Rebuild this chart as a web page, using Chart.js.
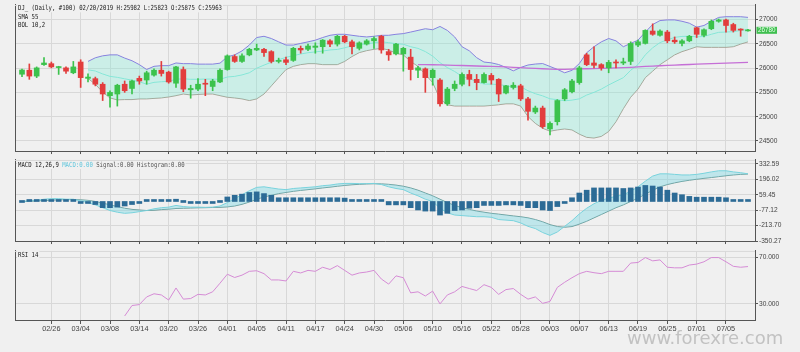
<!DOCTYPE html>
<html><head><meta charset="utf-8">
<script src="https://cdn.jsdelivr.net/npm/chart.js@4.4.1/dist/chart.umd.min.js"></script>
<style>
html,body{margin:0;padding:0;background:#f0f0f0;}
#wrap{position:relative;width:800px;height:352px;background:#f0f0f0;overflow:hidden;}
canvas{position:absolute;left:0;}
</style></head><body>
<div id="wrap">
<canvas id="cp" width="800" height="156" style="top:0px"></canvas>
<canvas id="cm" width="800" height="91" style="top:155px"></canvas>
<canvas id="cr" width="800" height="106" style="top:246px"></canvas>
</div>
<script>
// ---------- DATA ----------
const dates = ["02/20","02/21","02/22","02/25","02/26","02/27","02/28","03/01","03/04","03/05",
"03/06","03/07","03/08","03/11","03/12","03/13","03/14","03/15","03/18","03/19",
"03/20","03/21","03/22","03/25","03/26","03/27","03/28","03/29","04/01","04/02",
"04/03","04/04","04/05","04/08","04/09","04/10","04/11","04/12","04/15","04/16",
"04/17","04/18","04/22","04/23","04/24","04/25","04/26","04/29","04/30","05/01",
"05/02","05/03","05/06","05/07","05/08","05/09","05/10","05/13","05/14","05/15",
"05/16","05/17","05/20","05/21","05/22","05/23","05/24","05/27","05/28","05/29",
"05/30","05/31","06/03","06/04","06/05","06/06","06/07","06/10","06/11","06/12",
"06/13","06/14","06/17","06/18","06/19","06/20","06/21","06/24","06/25","06/26",
"06/27","06/28","07/01","07/02","07/03","07/04","07/05","07/08","07/09","07/10"];
const xTicks = [4,8,12,16,20,24,28,32,36,40,44,48,52,56,60,64,68,72,76,80,84,88,92,96];

const open = [25875,25958,25837,26073,26093,26012,26006,25905,26127,25790,
25784,25669,25434,25468,25669,25582,25790,25756,25857,25958,
25918,25690,25972,25555,25569,25690,25623,25716,25972,26240,
26139,26274,26375,26389,26341,26139,26173,26160,26409,26389,
26429,26442,26563,26496,26657,26543,26409,26496,26563,26657,
26341,26294,26294,26227,25958,25986,25805,25756,25266,25582,
25669,25871,25770,25703,25851,25770,25488,25603,25636,25367,
25098,25179,24748,24897,25367,25514,25703,26274,26107,26073,
26006,26119,26107,26139,26476,26510,26765,26677,26744,26577,
26510,26563,26832,26677,26812,26966,26993,26899,26792,26768];
const high = [25982,26087,26026,26220,26127,26039,26026,26139,26173,25885,
25817,25703,25535,25669,25736,25756,25837,25938,25986,26139,
25938,26039,26026,25649,25784,25770,25770,25986,26274,26274,
26294,26409,26496,26409,26361,26207,26227,26429,26456,26496,
26522,26590,26590,26677,26677,26577,26543,26590,26643,26677,
26389,26510,26429,26389,26039,26006,25986,25784,25603,25736,
25905,25958,25871,25905,25891,25784,25649,25703,25669,25401,
25219,25219,24897,25353,25582,25770,26039,26308,26442,26093,
26160,26173,26207,26543,26577,26792,26913,26792,26778,26643,
26590,26677,26846,26812,26993,27013,27013,26926,26812,26800];
const low = [25823,25770,25805,26059,26006,25871,25891,25885,25603,25716,
25635,25333,25199,25219,25502,25468,25669,25669,25837,25837,
25690,25603,25515,25381,25535,25434,25535,25703,25958,26119,
26119,26254,26361,26240,26107,26107,26073,26139,26308,26361,
26308,26308,26442,26456,26522,26294,26375,26476,26409,26308,
26160,26274,25938,25756,25805,25502,25649,25219,25232,25535,
25635,25635,25555,25690,25669,25313,25468,25569,25333,24930,
25065,24762,24627,24829,25333,25488,25669,26052,26006,25958,
25905,26006,26073,26073,26442,26496,26677,26657,26522,26510,
26456,26543,26631,26643,26792,26946,26744,26744,26657,26760];
const close = [25963,25837,26006,26107,26026,26020,25938,26026,25805,25817,
25669,25468,25501,25649,25535,25736,25736,25905,25958,25891,
25716,26026,25569,25582,25669,25669,25736,25958,26254,26139,
26254,26389,26409,26321,26139,26160,26119,26409,26375,26456,
26456,26577,26496,26657,26543,26442,26522,26563,26610,26375,
26274,26496,26409,25972,26006,25805,25958,25266,25569,25669,
25871,25770,25703,25871,25756,25468,25636,25649,25367,25111,
25179,24796,24863,25333,25555,25736,26006,26073,26059,26006,
26119,26107,26130,26510,26543,26778,26698,26765,26563,26543,
26563,26657,26698,26792,26966,26993,26879,26778,26785,26780];

const bolUpper = [null,null,null,null,null,null,null,null,null,
26139,26214,26254,26274,26274,26208,26153,26073,25972,26038,
26052,26052,26107,26093,26093,26083,26083,26083,26103,26234,
26274,26355,26476,26631,26657,26611,26542,26476,26476,26510,
26542,26577,26631,26677,26698,26698,26677,26657,26643,26657,
26677,26677,26698,26712,26744,26778,26812,26792,26859,26778,
26643,26442,26357,26216,26126,26110,26075,26015,25945,26015,
26065,26085,26095,26035,25975,25905,25955,26095,26317,26442,
26542,26611,26563,26442,26510,26577,26744,26899,26980,26994,
26994,26966,26926,26845,26879,26966,27046,27060,27060,27060,27046];
const bolMid = [null,null,null,null,null,null,null,null,null,
25965,25942,25881,25831,25811,25781,25753,25720,25670,25708,
25720,25730,25771,25781,25771,25771,25776,25776,25769,25818,
25831,25861,25905,25999,26063,26123,26174,26224,26257,26292,
26318,26335,26352,26375,26386,26419,26459,26489,26502,26523,
26543,26526,26503,26493,26442,26408,26342,26248,26113,26012,
25932,25831,25789,25718,25673,25671,25661,25641,25606,25618,
25535,25474,25429,25369,25352,25327,25342,25368,25446,25502,
25569,25654,25730,25804,25956,26073,26275,26419,26527,26584,
26634,26654,26658,26644,26654,26698,26738,26745,26751,26778,26794];
const bolLower = [null,null,null,null,null,null,null,null,null,
25790,25669,25508,25387,25347,25353,25353,25367,25367,25377,
25387,25407,25434,25468,25448,25458,25468,25468,25434,25401,
25387,25367,25333,25367,25468,25635,25805,25972,26038,26073,
26093,26093,26073,26073,26073,26139,26240,26321,26361,26389,
26409,26375,26308,26274,26139,26038,25871,25704,25367,25246,
25220,25220,25220,25220,25220,25232,25246,25266,25266,25220,
25004,24863,24762,24702,24728,24748,24728,24641,24575,24561,
24595,24696,24897,25165,25401,25569,25805,25938,26073,26173,
26274,26341,26389,26442,26429,26429,26429,26429,26442,26496,26542];
const sma55 = [null,null,null,null,null,null,null,null,null,null,
null,null,null,null,null,null,null,null,null,null,
null,null,null,null,null,null,null,null,null,null,
null,null,null,null,null,null,null,null,null,null,
null,null,null,null,null,null,null,null,null,null,
null,null,null,null,
26075,26072,26070,26066,26062,26058,26055,26050,26045,26040,
26035,26030,26025,26018,26010,26002,25995,25988,25980,25975,
25976,25980,25984,25988,25992,25996,26000,26006,26012,26018,
26025,26035,26042,26050,26057,26064,26070,26076,26082,26088,
26094,26100,26105,26110,26115,26120];
const priceTicks = [24500,25000,25500,26000,26500,27000];

const macdLine = [0,5,10,20,25,25,20,20,5,-10,
-30,-55,-80,-95,-105,-100,-90,-80,-65,-55,
-50,-35,-45,-50,-50,-52,-50,-40,-10,25,
60,95,125,130,120,110,105,115,120,125,
130,140,145,155,160,160,158,158,160,150,
130,115,105,75,50,20,0,-60,-100,-120,
-125,-130,-135,-135,-140,-160,-165,-170,-190,-220,
-240,-275,-300,-270,-220,-170,-110,-60,-20,10,
30,45,60,90,130,180,225,245,245,240,
235,235,240,250,262,272,272,262,255,245];
const signalLine = [0,2,5,8,12,15,16,17,15,10,
0,-15,-30,-45,-60,-70,-75,-80,-78,-72,
-68,-62,-60,-58,-56,-55,-53,-52,-48,-40,
-25,-5,20,40,55,70,80,90,98,105,
112,120,127,135,142,148,152,155,157,156,
152,145,135,120,100,75,50,20,-10,-35,
-55,-70,-85,-95,-105,-112,-120,-128,-135,-145,
-160,-180,-205,-222,-228,-222,-200,-175,-145,-115,
-85,-55,-30,0,30,65,100,130,150,165,
178,188,197,205,212,220,228,235,240,243];
const histogram = [0,3,5,10,12,10,5,3,-5,-10,
-27,-55,-55,-50,-40,-27,-10,15,15,15,
5,20,0,-3,-3,-3,-3,0,40,55,
65,80,85,70,55,33,33,33,33,33,
33,33,33,33,30,3,3,3,3,3,
-30,-30,-30,-55,-75,-85,-85,-120,-105,-80,
-75,-60,-55,-35,-35,-35,-30,-30,-35,-55,
-55,-75,-80,-45,-5,33,75,100,120,120,
120,120,115,120,128,142,137,128,100,75,
60,45,38,38,38,38,33,8,8,8];
const macdTicks = [-350.27,-213.70,-77.12,59.45,196.02,332.59];

const rsi = [null,null,null,null,null,null,null,null,null,null,null,null,null,null,
19.6,28.6,29.4,36,38.7,37.7,33.3,43.7,34.1,34.6,
38.2,37.7,40.4,47.8,55.5,52.7,54.7,58,58.5,56,
50.6,50.6,49.7,58,56.6,58.8,58,61.5,59.6,62.9,
58.8,54.7,56.6,57.4,58.8,51.4,47,54.1,52.5,39.5,
40.4,36.8,41,30,37.7,40.4,45,43.2,41.5,46.5,
44.2,38.2,42.3,43.2,38.2,34.1,36,30.5,32.1,44.2,
48.6,52.5,56,58,56.8,56,58,58,58,65.1,
65.6,69.8,67,67.8,61.5,61,61,63.4,64.2,66.2,
69.8,69.8,66.2,62.3,61.5,62.1];
const rsiTicks = [30,70];

// ---------- STYLE ----------
const BG = '#f0f0f0', GRID = '#d8d8d8', AXIS = '#555555', TXT = '#444444';
const UP = '#3cc24c', DOWN = '#e23d3d';
const SANS = '"Liberation Sans", Arial, sans-serif';
const MONO = '"DejaVu Sans Mono", "Liberation Mono", monospace';
const BAND_FILL = 'rgba(118,236,212,0.30)';
const MACD_FILL = 'rgba(125,216,228,0.42)';
Chart.defaults.font.family = SANS;

const pts = arr => arr.map((v, i) => ({x: i, y: v})).filter(p => p.y !== null);
const candleColor = c => close[c.dataIndex] >= open[c.dataIndex] ? UP : DOWN;

function xScale(showLabels, h) {
  return {
    type: 'linear', min: -0.955, max: 99.955, offset: false,
    afterBuildTicks: s => { s.ticks = xTicks.map(v => ({value: v})); },
    afterFit: s => { s.height = h; },
    grid: {color: GRID, tickColor: AXIS, tickLength: 3, offset: false},
    border: {color: AXIS, width: 1},
    ticks: {display: showLabels, autoSkip: false, maxRotation: 0, minRotation: 0, padding: 1,
      color: TXT, font: {family: SANS, size: 7.3}, callback: v => dates[v]}
  };
}
function yScale(min, max, tickArr, fmt) {
  return {
    position: 'right', min: min, max: max, beginAtZero: false,
    afterBuildTicks: s => { s.ticks = tickArr.map(v => ({value: v})); },
    afterFit: s => { s.width = 45; },
    grid: {color: GRID, tickColor: AXIS, tickLength: 3},
    border: {color: AXIS, width: 1},
    ticks: {autoSkip: false, padding: 1, color: TXT, font: {family: SANS, size: 6.6}, callback: fmt}
  };
}
const leftScale = {
  position: 'left', afterFit: s => { s.width = 15; },
  ticks: {display: false}, grid: {display: true, drawOnChartArea: false, drawTicks: false},
  border: {color: AXIS, width: 1}
};

let monoScale = null;
const headerLine = () => 'DJ_ (Daily, #100) ' + dates[0] + '/2019 H:' + high[0] + ' L:' + low[0] + ' O:' + open[0] + ' C:' + close[0];
function label(ctx, x, y, segs) {
  ctx.save();
  ctx.font = '7px ' + MONO;
  if (monoScale === null) monoScale = 204 / ctx.measureText(headerLine()).width;
  const w = segs.map(s => ctx.measureText(s[0]).width);
  const tot = w.reduce((a, b) => a + b, 0);
  ctx.fillStyle = BG;
  ctx.fillRect(x - 1, y - 4, tot * monoScale + 2, 8);
  ctx.translate(x, y); ctx.scale(monoScale, 1);
  ctx.textBaseline = 'middle'; ctx.textAlign = 'left';
  let cx = 0;
  segs.forEach((s, k) => { ctx.fillStyle = s[1]; ctx.fillText(s[0], cx, 0); cx += w[k]; });
  ctx.restore();
}
const topLine = {
  id: 'topLine',
  beforeDatasetsDraw(chart) {
    const a = chart.chartArea, c = chart.ctx;
    c.save(); c.strokeStyle = GRID; c.lineWidth = 1;
    c.beginPath(); c.moveTo(a.left, a.top + 0.5); c.lineTo(a.right, a.top + 0.5); c.stroke(); c.restore();
  }
};

// ---------- PRICE PANEL ----------
new Chart(document.getElementById('cp'), {
  type: 'bar',
  data: {
    datasets: [
      {type: 'bar', label: 'body', data: open.map((o, i) => ({x: i, y: [o, close[i]]})),
        backgroundColor: candleColor, barThickness: 5, minBarLength: 1, grouped: false, order: 0, yAxisID: 'y', xAxisID: 'x'},
      {type: 'bar', label: 'wick', data: high.map((h, i) => ({x: i, y: [low[i], h]})),
        backgroundColor: candleColor, barThickness: 1, grouped: false, order: 1, yAxisID: 'y', xAxisID: 'x'},
      {type: 'line', label: 'upper', data: pts(bolUpper), borderColor: '#8781de', borderWidth: 1, pointRadius: 0,
        fill: {target: 4, above: BAND_FILL, below: BAND_FILL}, order: 3, yAxisID: 'y', xAxisID: 'x'},
      {type: 'line', label: 'mid', data: pts(bolMid), borderColor: '#8ce4d8', borderWidth: 1, pointRadius: 0, fill: false, order: 3, yAxisID: 'y', xAxisID: 'x'},
      {type: 'line', label: 'lower', data: pts(bolLower), borderColor: '#ab9e92', borderWidth: 1, pointRadius: 0, fill: false, order: 3, yAxisID: 'y', xAxisID: 'x'},
      {type: 'line', label: 'sma55', data: pts(sma55), borderColor: '#c56fd6', borderWidth: 1.3, pointRadius: 0, fill: false, order: 2, yAxisID: 'y', xAxisID: 'x'}
    ]
  },
  options: {
    responsive: false, animation: false, devicePixelRatio: 1,
    layout: {padding: {top: 4, left: 0, right: 0, bottom: 0}},
    plugins: {legend: {display: false}, tooltip: {enabled: false}},
    scales: {
      x: xScale(false, 3),
      y: yScale(24293, 27302, priceTicks, v => String(v)),
      yl: leftScale
    }
  },
  plugins: [topLine, {
    id: 'priceText',
    afterDraw(chart) {
      const c = chart.ctx;
      label(c, 18, 8.3, [[headerLine(), '#222']]);
      label(c, 18, 17, [['SMA 55', '#222']]);
      label(c, 18, 25, [['BOL 10,2', '#222']]);
      const last = close[close.length - 1];
      const yy = chart.scales.y.getPixelForValue(last);
      c.save();
      c.fillStyle = '#3fbf4f'; c.fillRect(756.5, yy - 3.5, 20.5, 7);
      c.fillStyle = '#eaffea'; c.font = '6.3px ' + SANS; c.textAlign = 'center'; c.textBaseline = 'middle';
      c.fillText(String(last), 766.8, yy + 0.3);
      c.restore();
    }
  }]
});

// ---------- MACD PANEL ----------
new Chart(document.getElementById('cm'), {
  type: 'bar',
  data: {
    datasets: [
      {type: 'bar', label: 'Histogram', data: pts(histogram), backgroundColor: '#2c6b96', barThickness: 5, minBarLength: 2,
        grouped: false, order: 0, yAxisID: 'y', xAxisID: 'x'},
      {type: 'line', label: 'MACD', data: pts(macdLine), borderColor: '#78d2dc', borderWidth: 1, pointRadius: 0,
        fill: {target: 2, above: MACD_FILL, below: MACD_FILL}, order: 1, yAxisID: 'y', xAxisID: 'x'},
      {type: 'line', label: 'Signal', data: pts(signalLine), borderColor: '#6e9a98', borderWidth: 1, pointRadius: 0, fill: false, order: 1, yAxisID: 'y', xAxisID: 'x'}
    ]
  },
  options: {
    responsive: false, animation: false, devicePixelRatio: 1,
    layout: {padding: 0},
    plugins: {legend: {display: false}, tooltip: {enabled: false}},
    scales: {
      x: xScale(false, 3),
      y: yScale(-350.27, 367.7, macdTicks, v => Number(v).toFixed(2)),
      yl: leftScale
    }
  },
  plugins: [topLine, {
    id: 'macdText',
    afterDraw(chart) {
      label(chart.ctx, 18, 10, [['MACD 12,26,9 ', '#222'], ['MACD:0.00', '#62c6dc'], [' Signal:0.00 Histogram:0.00', '#555']]);
    }
  }]
});

// ---------- RSI PANEL ----------
new Chart(document.getElementById('cr'), {
  type: 'line',
  data: {
    datasets: [
      {label: 'RSI', data: pts(rsi), borderColor: '#d58bd5', borderWidth: 1, pointRadius: 0, fill: false, yAxisID: 'y', xAxisID: 'x'}
    ]
  },
  options: {
    responsive: false, animation: false, devicePixelRatio: 1,
    layout: {padding: {top: 2, left: 0, right: 0, bottom: 0}},
    plugins: {legend: {display: false}, tooltip: {enabled: false}},
    scales: {
      x: xScale(true, 31),
      y: yScale(15.3, 75.5, rsiTicks, v => Number(v).toFixed(3)),
      yl: leftScale
    }
  },
  plugins: [topLine, {
    id: 'rsiText',
    afterDraw(chart) {
      const c = chart.ctx;
      label(c, 18, 9, [['RSI 14', '#222']]);
      c.save();
      c.font = '18px "DejaVu Sans", sans-serif';
      c.fillStyle = '#c2c2c2'; c.textAlign = 'left'; c.textBaseline = 'alphabetic';
      c.fillText('www.forexre.com', 627, 98, 161);
      c.restore();
    }
  }]
});
</script>
</body></html>
